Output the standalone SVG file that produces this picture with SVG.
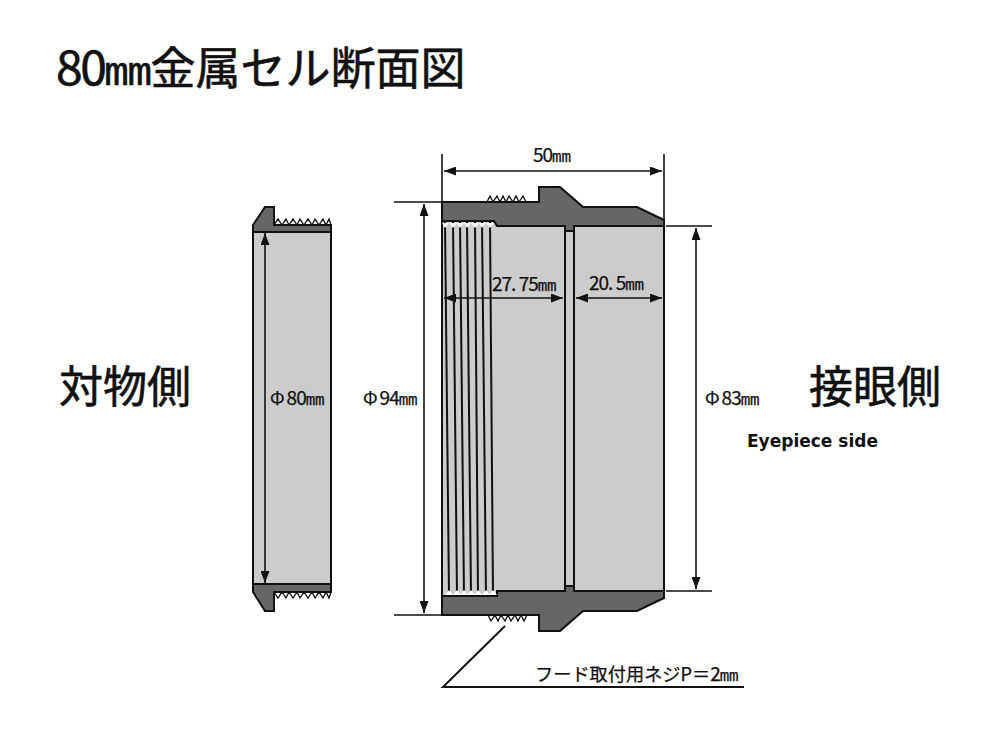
<svg xmlns="http://www.w3.org/2000/svg" width="1000" height="729" viewBox="0 0 1000 729">
<style>
text{font-family:"Noto Sans CJK JP","Liberation Sans",sans-serif;fill:#111;stroke:#111;stroke-width:.25}
.g{fill:#666;stroke:#111;stroke-width:2;stroke-linejoin:miter}
.l{fill:#ccc;stroke:#111;stroke-width:2}
.t{fill:#fff;stroke:#111;stroke-width:1.3;stroke-linejoin:miter}
.n{fill:none;stroke:#111;stroke-width:2}
.d{fill:none;stroke:#111;stroke-width:1.6}
.a{marker-start:url(#as);marker-end:url(#ae)}
.s{font-size:18.200px}
.big{stroke-width:.6}
.dg{font-size:19px;letter-spacing:-1px}
.mm{font-family:"Liberation Mono",monospace;font-size:16px;letter-spacing:-.3px}
.en{font-family:"DejaVu Sans",sans-serif;font-size:17px;font-weight:700;stroke:none}
</style>
<defs>
<marker id="ae" markerUnits="userSpaceOnUse" markerWidth="13" markerHeight="9" refX="12" refY="4.5" orient="auto"><path d="M0 0L12 4.5L0 9Z" fill="#111"/></marker>
<marker id="as" markerUnits="userSpaceOnUse" markerWidth="13" markerHeight="9" refX="0" refY="4.5" orient="auto"><path d="M12 0L0 4.5L12 9Z" fill="#111"/></marker>
</defs>
<rect width="1000" height="729" fill="#fff"/>
<text id="title" class="big" x="56" y="85" font-size="45"><tspan font-size="48" letter-spacing="-2.500">80</tspan><tspan style="font-family:'Liberation Mono',monospace;font-size:41px;letter-spacing:-1.500px">mm</tspan><tspan>金属セル断面図</tspan></text>
<g id="objective-cell">
<path class="t" d="M274 225L278 219L282 225L286 219L289 225L293 219L297 225L300 219L304 225L308 219L312 225L315 219L319 225L323 219L326 225L329 219L331 225"/>
<path class="t" d="M274 592L278 598L282 592L286 598L289 592L293 598L297 592L300 598L304 592L308 598L312 592L315 598L319 592L323 598L326 592L329 598L331 592"/>
<rect class="l" x="253" y="232" width="78" height="352"/>
<path class="g" d="M253 232V225L265 207H274V225H331V232Z"/>
<path class="g" d="M253 584V592L265 611H274V592H331V584Z"/>
</g>
<g id="eyepiece-cell">
<path class="t" d="M487 202L490 196L493 202L497 196L500 202L503 196L506 202L509 196L513 202L516 196L519 202L523 196L526 202"/>
<path class="t" d="M488 615L491 621L495 615L498 621L501 615L505 621L508 615L511 621L515 615L518 621L521 615L524 621L527 615"/>
<rect class="l" x="442" y="221" width="222" height="375"/>
<path class="l" d="M565 226H574V591H565Z"/>
<path class="g" d="M442 202H539V187H560L583 207H637L664 220V226H574V231H565V226H497L494 221H442Z"/>
<path class="g" d="M442 615H539V631H560L583 611H637L664 598V591H574V586H565V591H497V596H442Z"/>
<path class="n" d="M445 222L449 596M453 222L457 596M460 222L464 596M467 222L471 596M475 222L478 596M482 222L486 596M490 222L493 596"/>
<path d="M442 223H449L445 228ZM449 223H457L453 228ZM456.500 223H464L460 228ZM464 223H471L467 228ZM471 223H479L475 228ZM479 223H486L482 228ZM486 223H494L490 228ZM445 595H453L449 590ZM453 595H461L457 590ZM460 595H468L464 590ZM467 595H475L471 590ZM474 595H482L478 590ZM482 595H490L486 590ZM489 595H497L493 590Z" fill="#fff"/>
</g>
<g id="connectors">
<path class="d" d="M442 154V202M664 154V226M394 202H441M394 615H441M666 226H712M666 591H712"/>
<path class="d a" d="M444 171H662"/>
<path class="d a" d="M424 204V613"/>
<path class="d a" d="M696 228V589"/>
<path class="d a" d="M265 233V583"/>
<path class="d a" d="M444 298H563"/>
<path class="d a" d="M576 298H662"/>
<path class="n" d="M505 626L443 687H744"/>
</g>
<g id="labels">
<text class="s" x="533" y="162"><tspan class="dg">50</tspan><tspan class="mm">mm</tspan></text>
<text class="s" x="492" y="291"><tspan class="dg">27. 75</tspan><tspan class="mm">mm</tspan></text>
<text class="s" x="589" y="290"><tspan class="dg">20. 5</tspan><tspan class="mm">mm</tspan></text>
<text class="s" x="270" y="405">Φ<tspan class="dg" dx="2">80</tspan><tspan class="mm">mm</tspan></text>
<text class="s" x="363" y="405">Φ<tspan class="dg" dx="2">94</tspan><tspan class="mm">mm</tspan></text>
<text class="s" x="705" y="405">Φ<tspan class="dg" dx="2">83</tspan><tspan class="mm">mm</tspan></text>
<text class="big" x="59" y="403" font-size="44">対物側</text>
<text class="big" x="809" y="403" font-size="44">接眼側</text>
<text class="en" x="747" y="447">Eyepiece side</text>
<text class="s" x="535" y="681">フード取付用ネジP＝<tspan class="dg">2</tspan><tspan class="mm">mm</tspan></text>
</g>
</svg>
